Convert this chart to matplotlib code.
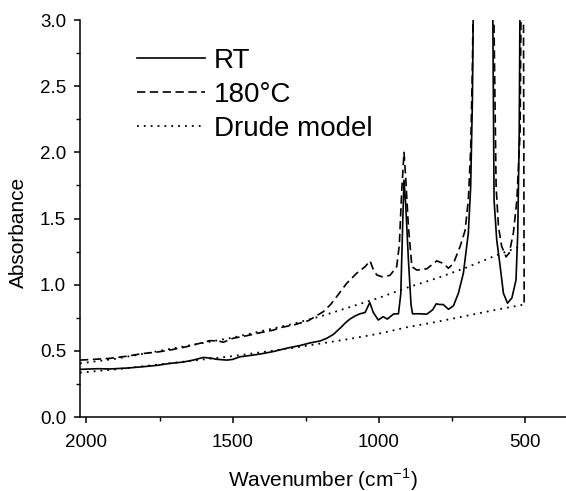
import matplotlib
matplotlib.use("Agg")
import matplotlib.pyplot as plt
from matplotlib.ticker import MultipleLocator

plt.rcParams['font.family'] = ['Liberation Sans', 'DejaVu Sans']

# ---- data ----
wn_rt = [2022, 1960, 1920, 1860, 1806, 1760, 1714, 1670, 1635, 1600, 1575, 1555, 1520, 1500,
         1475, 1440, 1406, 1360, 1315, 1270, 1235, 1200, 1178, 1155, 1133, 1115, 1099, 1080,
         1064, 1047, 1031, 1019, 1002, 985, 971, 950, 933, 925, 918, 914, 908, 899, 890, 885,
         860, 836, 816, 804, 791, 780, 762, 745, 728, 711, 694, 686, 680, 675, 612, 606, 597,
         585, 574, 560, 545, 531, 525, 520, 516]
abs_rt = [0.36, 0.365, 0.363, 0.37, 0.38, 0.39, 0.405, 0.415, 0.43, 0.45, 0.445, 0.436, 0.43, 0.435,
          0.455, 0.465, 0.476, 0.495, 0.52, 0.54, 0.56, 0.575, 0.595, 0.625, 0.67, 0.71, 0.74, 0.765,
          0.78, 0.79, 0.865, 0.79, 0.733, 0.758, 0.74, 0.778, 0.78, 0.93, 1.5, 1.79, 1.6, 1.19, 0.85, 0.78,
          0.78, 0.777, 0.81, 0.855, 0.85, 0.85, 0.814, 0.84, 0.935, 1.086, 1.39, 1.74, 2.4, 3.6, 3.6, 1.64, 1.34,
          1.136, 0.935, 0.86, 0.90, 1.035, 1.39, 2.15, 3.6]

wn_180 = [2022, 1980, 1920, 1860, 1806, 1760, 1714, 1660, 1612, 1578, 1550, 1532, 1498, 1450,
          1406, 1360, 1338, 1292, 1241, 1190, 1165, 1144, 1110, 1076, 1047, 1030, 1020, 1007,
          990, 962, 939, 930, 922, 914, 908, 899, 887, 870, 836, 813, 802, 779, 762, 745, 722,
          705, 694, 686, 680, 675, 610, 599, 591, 580, 565, 554, 540, 528, 517, 512, 506, 503]
abs_180 = [0.43, 0.435, 0.443, 0.46, 0.48, 0.49, 0.506, 0.53, 0.557, 0.577, 0.575, 0.565, 0.595, 0.615,
           0.637, 0.657, 0.675, 0.695, 0.728, 0.796, 0.85, 0.91, 1.01, 1.086, 1.136, 1.18, 1.12, 1.073,
           1.06, 1.07, 1.136, 1.3, 1.7, 2.0, 1.8, 1.44, 1.136, 1.11, 1.12, 1.16, 1.18, 1.16, 1.124, 1.16, 1.29,
           1.41, 1.64, 2.02, 2.65, 3.6, 3.6, 1.74, 1.44, 1.29, 1.21, 1.24, 1.39, 1.64, 2.15, 3.6, 3.6, 0.86]

wn_drude = [2022, 1900, 1800, 1700, 1600, 1500, 1400, 1300, 1200, 1100, 1000, 900, 800, 700, 600, 503]
drude_hi = [0.405, 0.44, 0.48, 0.52, 0.56, 0.60, 0.65, 0.70, 0.76, 0.83, 0.90, 0.98, 1.05, 1.13, 1.22, 1.30]
drude_lo = [0.335, 0.36, 0.385, 0.41, 0.435, 0.46, 0.49, 0.52, 0.555, 0.59, 0.63, 0.68, 0.72, 0.765, 0.81, 0.85]

labels = ["RT", "180°C", "Drude model"]
x_ticks = [2000, 1500, 1000, 500]
y_ticks = [0.0, 0.5, 1.0, 1.5, 2.0, 2.5, 3.0]

# ---- figure ----
fig = plt.figure(figsize=(5.66, 4.91), dpi=100)
ax = fig.add_axes([80/566, 1-417/491, (566-80)/566, (417-20)/491])

l1, = ax.plot(wn_rt, abs_rt, color='black', lw=1.2, solid_joinstyle='round')
l2, = ax.plot(wn_180, abs_180, color='black', lw=1.2, dashes=(5, 2.7))
l3, = ax.plot(wn_drude, drude_hi, color='black', lw=1.3, dashes=(1, 2.8))
ax.plot(wn_drude, drude_lo, color='black', lw=1.3, dashes=(1, 2.8))

ax.set_xlim(2022, 360)
ax.set_ylim(0, 3.0)
ax.set_xticks(x_ticks)
ax.set_yticks(y_ticks)
ax.set_yticklabels([f"{v:.1f}" for v in y_ticks])
ax.xaxis.set_minor_locator(MultipleLocator(250))
ax.yaxis.set_minor_locator(MultipleLocator(0.25))

for s in ['top', 'right']:
    ax.spines[s].set_visible(False)
for s in ['left', 'bottom']:
    ax.spines[s].set_linewidth(1.1)

ax.tick_params(which='major', direction='out', length=4.5, width=1.1, labelsize=13.5)
ax.tick_params(which='minor', direction='out', length=3, width=1.0)
ax.tick_params(axis='x', which='major', pad=7.5)
ax.tick_params(axis='y', which='major', pad=5.5)

ax.set_xlabel("Wavenumber (cm$^{\\mathregular{-1}}$)", fontsize=15, labelpad=11)
ax.set_ylabel("Absorbance", fontsize=15)
ax.yaxis.set_label_coords(0, 0.5)
ax.yaxis.label.set_transform(fig.transFigure)
ax.yaxis.label.set_position((28/566, 1-232/491))

leg = ax.legend([l1, l2, l3], labels, loc='upper left',
                bbox_to_anchor=(137/566, 1-48/491), bbox_transform=fig.transFigure,
                frameon=False, fontsize=20, handlelength=2.45, handletextpad=0.32,
                labelspacing=0.28, borderpad=0, borderaxespad=0)

fig.savefig("out.png", dpi=100)
